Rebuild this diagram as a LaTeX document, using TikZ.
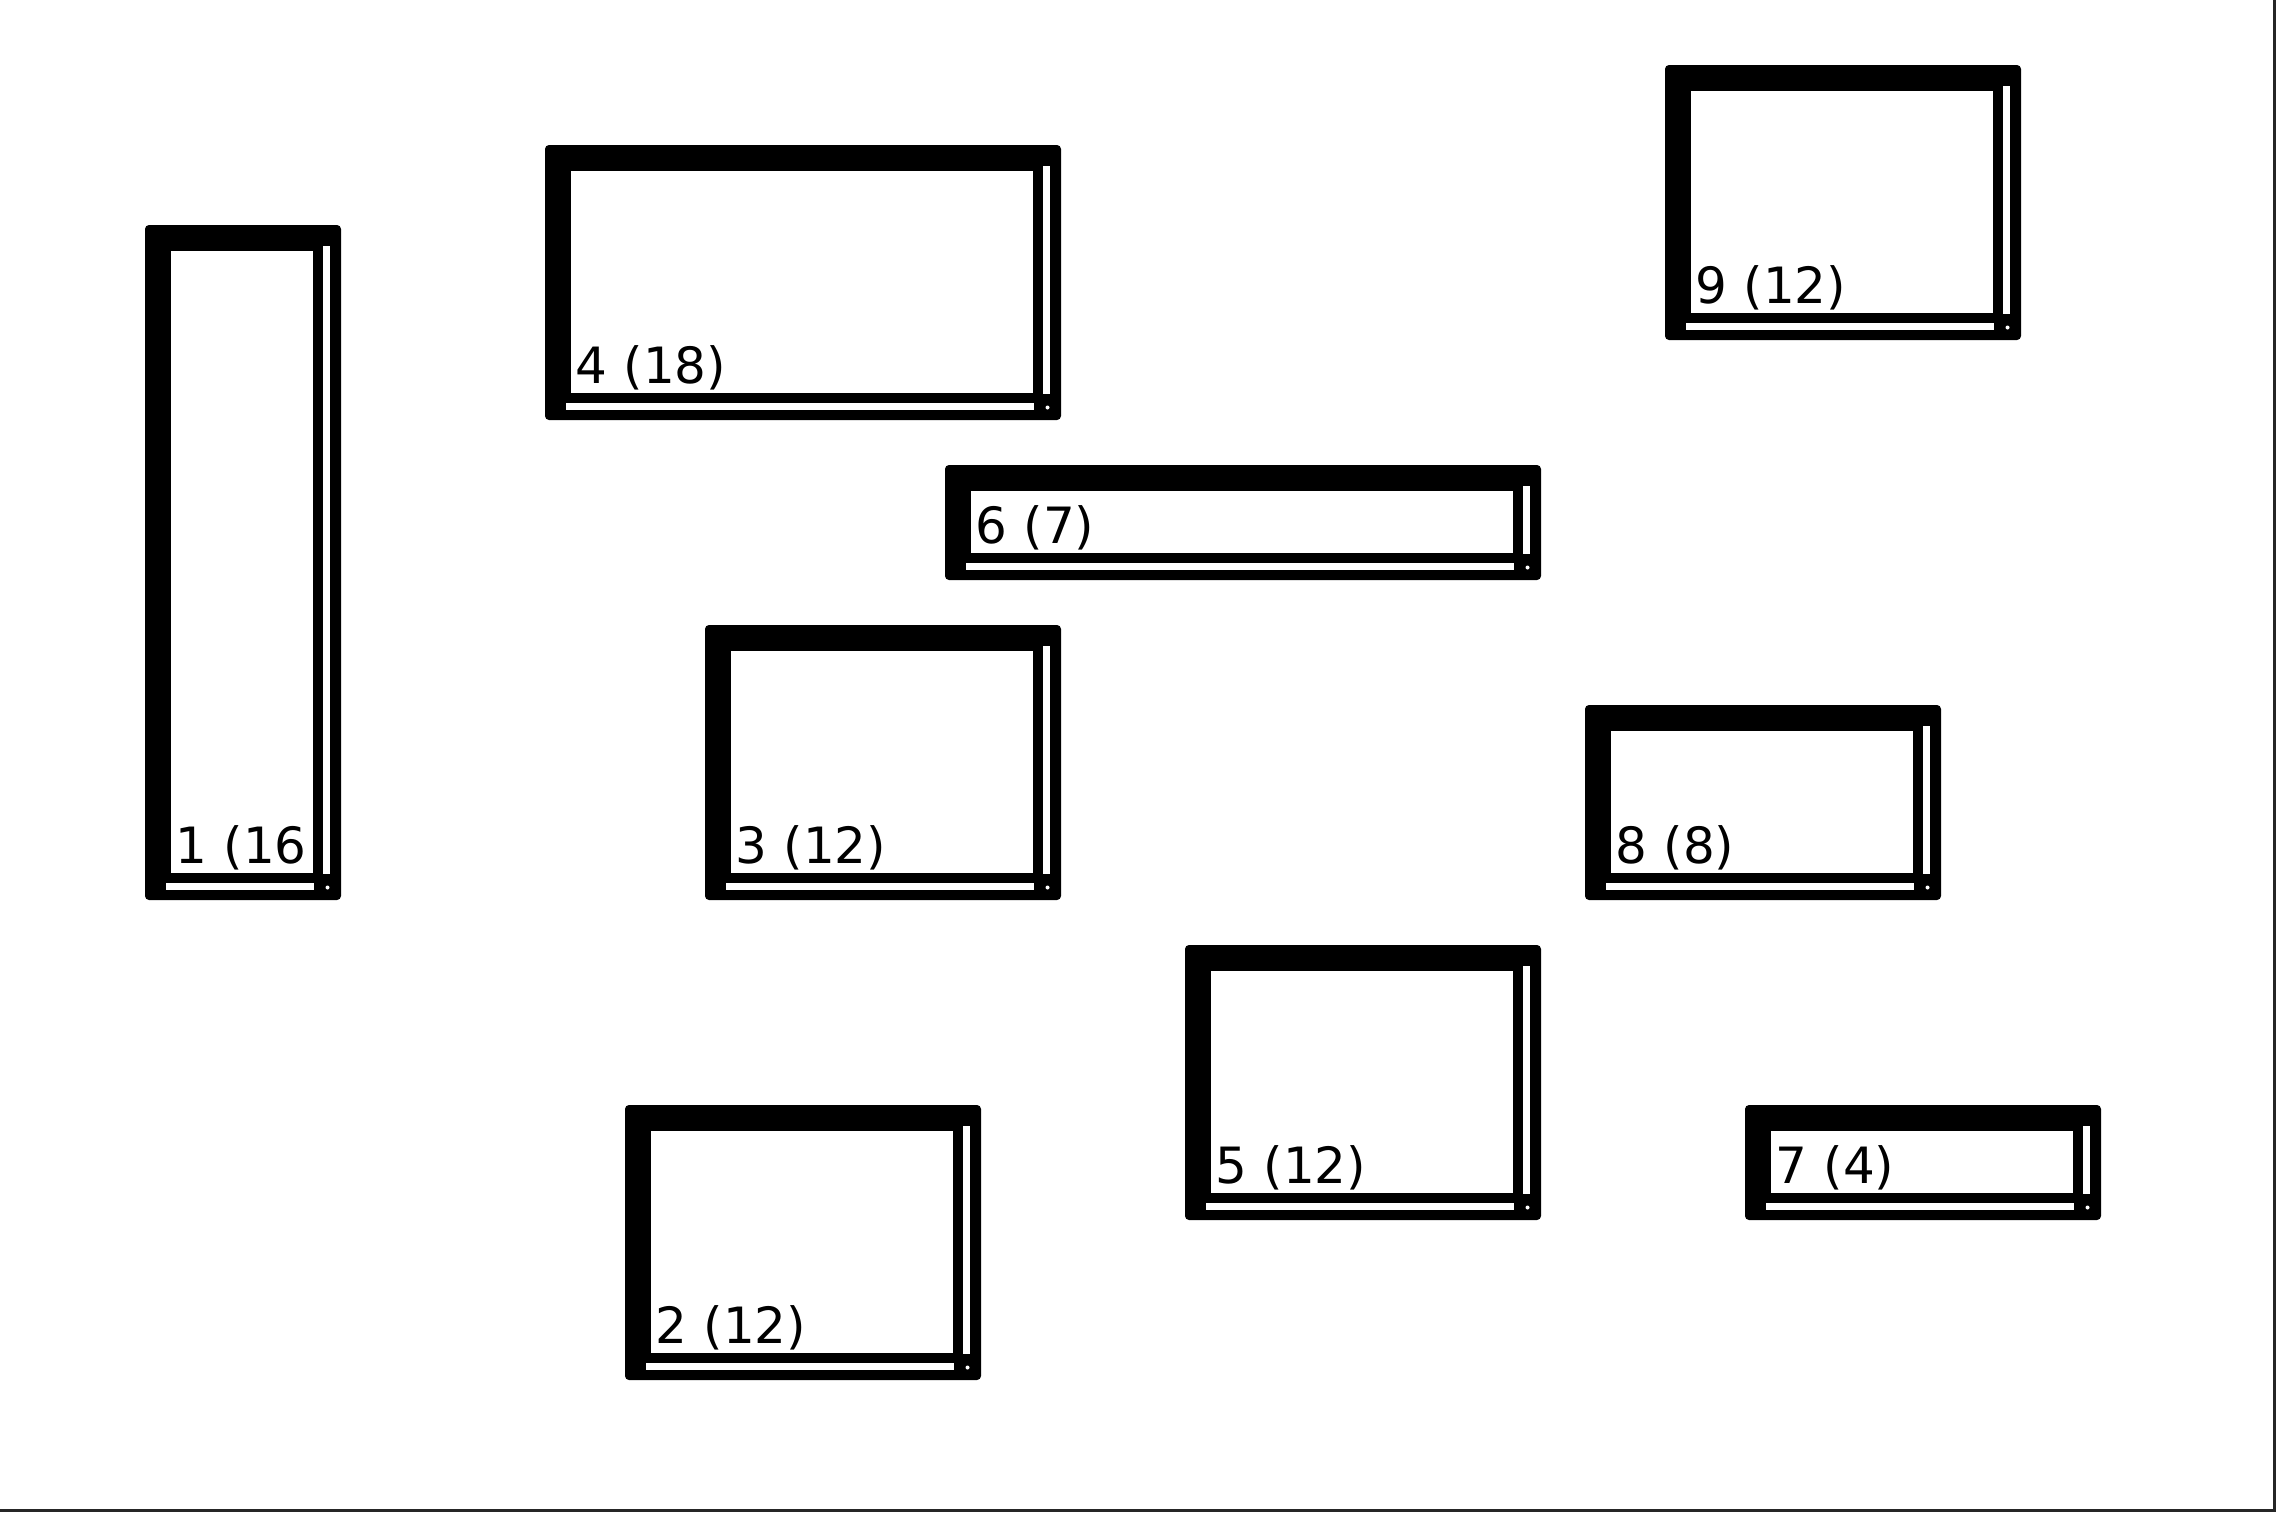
\documentclass[tikz,border=0pt]{standalone}
\usepackage{fontspec}
\setmainfont{DejaVu Sans}
\tikzset{
  shelfblack/.style={fill=black, rounded corners=2pt},
  shelfwhite/.style={fill=white},
  lbl/.style={anchor=base west, inner sep=0pt, font=\fontsize{25}{30}\selectfont, text=black},
}
% name, left, top, width units, height units, label
\newcommand\shelfbox[6]{%
  \pgfmathsetmacro\sbR{#2+80*#4+36}%
  \pgfmathsetmacro\sbB{#3+80*#5+35}%
  \path[shelfblack] (#2,#3) rectangle (\sbR,\sbB);
  \path[shelfwhite] (#2+26,#3+26) rectangle (\sbR-28,\sbB-27);
  \path[shelfwhite] (\sbR-18,#3+21) rectangle (\sbR-11,\sbB-26);
  \path[shelfwhite] (#2+21,\sbB-17) rectangle (\sbR-27,\sbB-10);
  \path[shelfwhite] (\sbR-13.5,\sbB-12.5) circle[radius=2];
  \node[lbl] (#1) at (#2+30.5,\sbB-36.5) {#6};
}
\begin{document}
\begin{tikzpicture}[x=0.5pt,y=-0.5pt]
\useasboundingbox (0,0) rectangle (2276,1512);
\fill[white] (0,0) rectangle (2276,1512);
\fill[black!85] (2273,0) rectangle (2276,1512);
\fill[black!85] (0,1509) rectangle (2276,1512);
\shelfbox{l1}{145}{225}{2}{8}{1 (16}
\shelfbox{l4}{545}{145}{6}{3}{4 (18)}
\shelfbox{l9}{1665}{65}{4}{3}{9 (12)}
\shelfbox{l6}{945}{465}{7}{1}{6 (7)}
\shelfbox{l3}{705}{625}{4}{3}{3 (12)}
\shelfbox{l8}{1585}{705}{4}{2}{8 (8)}
\shelfbox{l5}{1185}{945}{4}{3}{5 (12)}
\shelfbox{l7}{1745}{1105}{4}{1}{7 (4)}
\shelfbox{l2}{625}{1105}{4}{3}{2 (12)}
\end{tikzpicture}
\end{document}
